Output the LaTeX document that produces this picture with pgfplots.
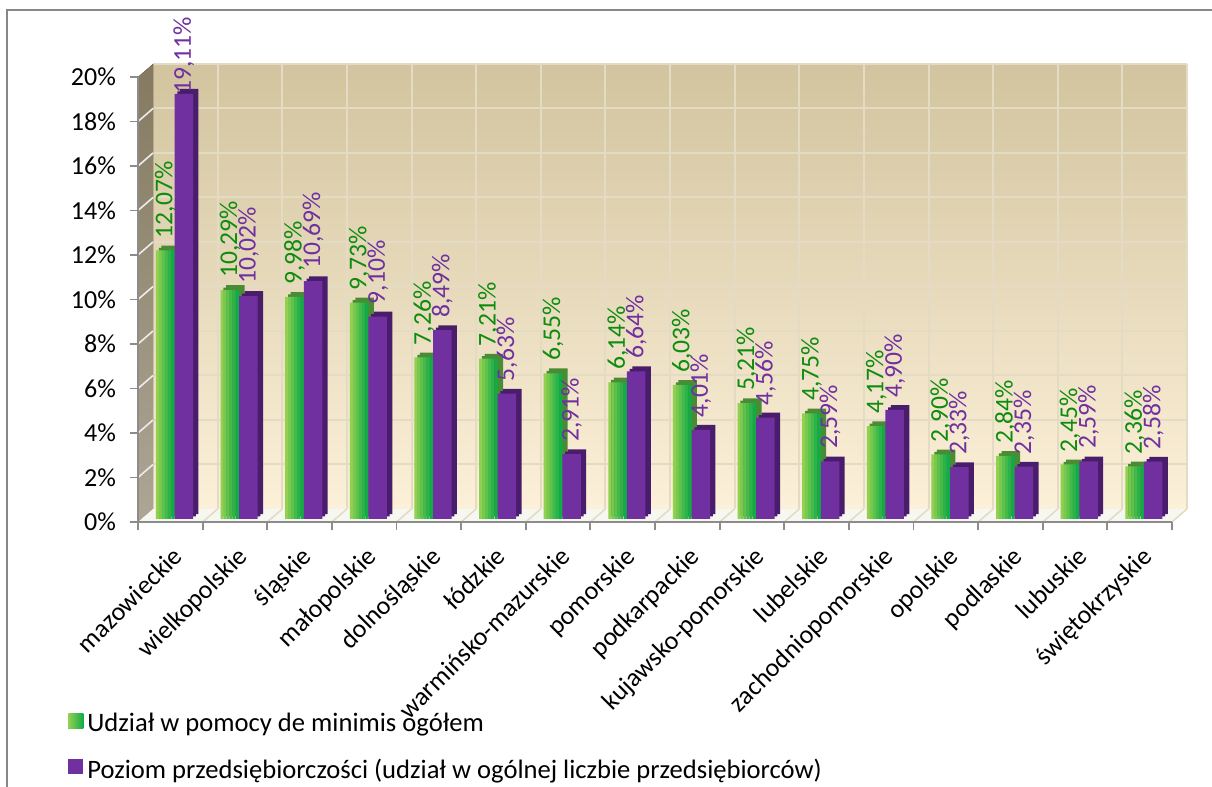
\documentclass[border=0pt]{standalone}
\usepackage{fontspec}
\setmainfont{Carlito}
\usepackage{pgfplots}
\usepackage{pgfplotstable}
\pgfplotsset{compat=1.18}
\definecolor{gL}{HTML}{92D050}
\definecolor{gR}{HTML}{10AC48}
\definecolor{gD}{HTML}{4A8C34}
\definecolor{pF}{HTML}{7030A0}
\definecolor{pD}{HTML}{4A1D6C}
\definecolor{labG}{HTML}{0E8C0E}
\definecolor{labP}{HTML}{7030A0}
\definecolor{wallTop}{HTML}{D2C49E}
\definecolor{wallBot}{HTML}{FCF0D9}
\definecolor{gridc}{HTML}{E3DBC3}
\definecolor{sideTop}{HTML}{857A60}
\definecolor{sideBot}{HTML}{ADA695}
\definecolor{floorc}{HTML}{F7F7F2}
\definecolor{axgray}{HTML}{8C8C8C}
\definecolor{framec}{HTML}{878787}

\pgfplotstableread{
x g p gs ps
0 12.07 19.11 6 0
1 10.29 10.02 6 6
2 9.98 10.69 6 6
3 9.73 9.10 6 6
4 7.26 8.49 6 6
5 7.21 5.63 6 6
6 6.55 2.91 6 6
7 6.14 6.64 6 6
8 6.03 4.01 6 6
9 5.21 4.56 6 6
10 4.75 2.59 6 6
11 4.17 4.90 6 6
12 2.90 2.33 6 6
13 2.84 2.35 6 6
14 2.45 2.59 6 6
15 2.36 2.58 6 6
}\data

\begin{document}
\begin{tikzpicture}
\draw[color=framec, line width=1.2pt] (3.5pt,0) -- (3.5pt,388.5pt) -- (606pt,388.5pt);
\begin{axis}[
  set layers,
  at={(69pt,132.5pt)}, anchor=south west,
  scale only axis, width=517pt, height=222.5pt,
  xmin=-0.5, xmax=15.5, ymin=0, ymax=20,
  clip=false,
  axis x line*=bottom, axis y line*=left,
  axis line style={-, draw=axgray, line width=1pt},
  /pgf/number format/assume math mode=true,
  tick align=outside, major tick length=4pt,
  tick style={draw=axgray, line width=0.9pt},
  ytick={0,2,...,20},
  yticklabel={\pgfmathprintnumber{\tick}\%},
  yticklabel style={font=\fontsize{13}{15}\selectfont, xshift=-3.5pt},
  xtick={-0.5,0.5,...,15.5},
  xticklabels={},
  extra x ticks={0,1,...,15},
  extra x tick labels={mazowieckie,wielkopolskie,śląskie,małopolskie,dolnośląskie,łódzkie,warmińsko-mazurskie,pomorskie,podkarpackie,kujawsko-pomorskie,lubelskie,zachodniopomorskie,opolskie,podlaskie,lubuskie,świętokrzyskie},
  extra x tick style={major tick length=0pt, xticklabel style={rotate=45, anchor=north east, font=\fontsize{13}{15}\selectfont, xshift=-4.5pt, yshift=-5pt}},
  legend style={at={(-0.0677,-0.42)}, anchor=north west, draw=none, fill=none, inner sep=0pt,
     font=\fontsize{13.3}{15}\selectfont, row sep=8pt, cells={anchor=west}},
  legend cell align=left,
]
\pgfplotsextra{%
\begin{pgfonlayer}{axis background}
  \fill[top color=wallTop, bottom color=wallBot, shift={(7.5pt,6.5pt)}] (axis cs:-0.5,0) rectangle (axis cs:15.5,20);
  \foreach \v in {2,4,...,20}{
    \draw[gridc, line width=1pt, shift={(7.5pt,6.5pt)}] (axis cs:-0.5,\v) -- (axis cs:15.5,\v);
  }
  \foreach \v in {0.5,1.5,...,15.5}{
    \draw[gridc, line width=1pt, shift={(7.5pt,6.5pt)}] (axis cs:\v,0) -- (axis cs:\v,20);
  }
  \fill[top color=sideTop, bottom color=sideBot] (axis cs:-0.5,0) -- (axis cs:-0.5,20) -- ([shift={(7.5pt,6.5pt)}]axis cs:-0.5,20) -- ([shift={(7.5pt,6.5pt)}]axis cs:-0.5,0) -- cycle;
  \foreach \v in {2,4,...,18}{
    \draw[white!85!gray, line width=0.8pt] (axis cs:-0.5,\v) -- ([shift={(7.5pt,6.5pt)}]axis cs:-0.5,\v);
  }
  \fill[floorc] (axis cs:-0.5,0) -- (axis cs:15.5,0) -- ([shift={(7.5pt,6.5pt)}]axis cs:15.5,0) -- ([shift={(7.5pt,6.5pt)}]axis cs:-0.5,0) -- cycle;
  \foreach \v in {0.5,1.5,...,15.5}{
    \draw[gridc, line width=0.8pt] (axis cs:\v,0) -- ([shift={(7.5pt,6.5pt)}]axis cs:\v,0);
  }
\end{pgfonlayer}}

% depth of green bars
\addplot[ybar, bar width=9.25pt, bar shift=-2.5pt, fill=gD, draw=none, forget plot, xshift=1.4pt, yshift=2.75pt] table[x=x,y=g]{\data};
\addplot[ybar, bar width=9.25pt, bar shift=-2.5pt, fill=gD, draw=none, forget plot, xshift=2.7pt, yshift=3.9pt] table[x=x,y=g]{\data};
% green front (gradient in strips)
\addplot[ybar, bar width=1.6pt, bar shift=-6.4pt, draw=none, fill=gL, forget plot, yshift=1.5pt] table[x=x,y=g]{\data};
\addplot[ybar, bar width=1.6pt, bar shift=-4.9pt, draw=none, fill=gL!80!gR, forget plot, yshift=1.5pt] table[x=x,y=g]{\data};
\addplot[ybar, bar width=1.6pt, bar shift=-3.4pt, draw=none, fill=gL!60!gR, forget plot, yshift=1.5pt] table[x=x,y=g]{\data};
\addplot[ybar, bar width=1.6pt, bar shift=-1.9pt, draw=none, fill=gL!40!gR, yshift=1.5pt,
  legend image code/.code={\shade[left color=gL, right color=gR] (0pt,-3.75pt) rectangle (7.5pt,3.75pt);},
] table[x=x,y=g]{\data};
\addplot[ybar, bar width=1.6pt, bar shift=-0.4pt, draw=none, fill=gL!20!gR, forget plot, yshift=1.5pt] table[x=x,y=g]{\data};
\addplot[ybar, bar width=1.55pt, bar shift=1.35pt, draw=none, fill=gR, forget plot, yshift=1.5pt] table[x=x,y=g]{\data};
% depth of purple bars
\addplot[ybar, bar width=9.25pt, bar shift=6.75pt, fill=pD, draw=none, forget plot, xshift=1.4pt, yshift=2.75pt] table[x=x,y=p]{\data};
\addplot[ybar, bar width=9.25pt, bar shift=6.75pt, fill=pD, draw=none, forget plot, xshift=2.7pt, yshift=3.9pt] table[x=x,y=p]{\data};
% purple front
\addplot[ybar, bar width=9.25pt, bar shift=6.75pt, draw=none, fill=pF, yshift=1.5pt,
  legend image code/.code={\fill[pF] (0pt,-3.75pt) rectangle (7.5pt,3.75pt);},
] table[x=x,y=p]{\data};
% value labels
\addplot[draw=none, mark=none, forget plot, point meta=y,
  visualization depends on={\thisrow{gs} \as \lsep},
  nodes near coords={\pgfmathprintnumber[fixed,fixed zerofill,precision=2,use comma]{\pgfplotspointmeta}\%},
  every node near coord/.style={xshift=-2.5pt, yshift=1.5pt, rotate=90, anchor=west, inner ysep=0pt, inner xsep=\lsep pt, text=labG, font=\fontsize{12.8}{12.8}\selectfont},
] table[x=x,y=g]{\data};
\addplot[draw=none, mark=none, forget plot, point meta=y,
  visualization depends on={\thisrow{ps} \as \lsep},
  nodes near coords={\pgfmathprintnumber[fixed,fixed zerofill,precision=2,use comma]{\pgfplotspointmeta}\%},
  every node near coord/.style={xshift=6.75pt, yshift=1.5pt, rotate=90, anchor=west, inner ysep=0pt, inner xsep=\lsep pt, text=labP, font=\fontsize{12.8}{12.8}\selectfont},
] table[x=x,y=p]{\data};
\legend{Udział w pomocy de minimis ogółem, Poziom przedsiębiorczości (udział w ogólnej liczbie przedsiębiorców)}
\end{axis}
\pgfresetboundingbox
\useasboundingbox (0,0) rectangle (606pt,393.5pt);
\end{tikzpicture}
\end{document}
